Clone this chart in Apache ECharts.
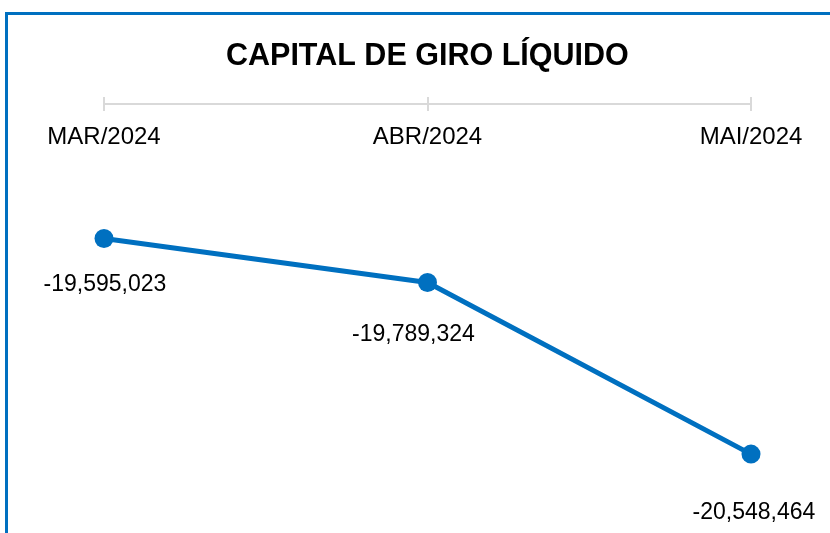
<!DOCTYPE html>
<html>
<head>
<meta charset="utf-8">
<script src="https://cdn.jsdelivr.net/npm/echarts@6/dist/echarts.min.js"></script>
<style>
html,body{margin:0;padding:0;background:#fff;}
#c{width:830px;height:533px;}
</style>
</head>
<body>
<div id="c"></div>
<script>
var categories = ['MAR/2024', 'ABR/2024', 'MAI/2024'];
var values = [-19595023, -19789324, -20548464];
var chartTitle = 'CAPITAL DE GIRO LÍQUIDO';

var labelOffsets = [[1, 46], [-14, 52], [3, 59]];

function fmt(v) {
  var s = Math.abs(v).toString().replace(/\B(?=(\d{3})+(?!\d))/g, ',');
  return (v < 0 ? '-' : '') + s;
}

var chart = echarts.init(document.getElementById('c'));
var blue = '#0070C0';
chart.setOption({
  backgroundColor: '#fff',
  animation: false,
  title: {
    text: chartTitle,
    left: 221,
    top: 36,
    textStyle: { fontFamily: 'Liberation Sans', fontWeight: 'bold', fontSize: 30.5, color: '#000' }
  },
  graphic: [{
    type: 'rect',
    shape: { x: 6.5, y: 13.5, width: 900, height: 700 },
    style: { fill: 'none', stroke: blue, lineWidth: 3 },
    silent: true
  }],
  grid: { left: 104, right: 79, top: 104, bottom: 22 },
  xAxis: [{
    type: 'category',
    data: categories,
    position: 'top',
    boundaryGap: false,
    axisLine: { lineStyle: { color: '#d9d9d9', width: 2 } },
    axisTick: { show: true, length: 7, lineStyle: { color: '#d9d9d9', width: 2 } },
    axisLabel: { inside: true, margin: 21, fontFamily: 'Liberation Sans', fontSize: 24, color: '#000' },
    splitLine: { show: false }
  }, {
    type: 'category',
    data: categories,
    position: 'top',
    boundaryGap: false,
    axisLine: { show: false },
    axisTick: { show: true, inside: true, length: 7, lineStyle: { color: '#d9d9d9', width: 2 } },
    axisLabel: { show: false },
    splitLine: { show: false }
  }],
  yAxis: {
    type: 'value',
    min: -20800000,
    max: -19000000,
    show: false,
    splitLine: { show: false }
  },
  series: [{
    type: 'line',
    xAxisIndex: 0,
    data: values.map(function (v, i) {
      return { value: v, label: { offset: labelOffsets[i] } };
    }),
    symbol: 'circle',
    symbolSize: 19,
    lineStyle: { color: blue, width: 5 },
    itemStyle: { color: blue },
    label: {
      show: true,
      position: 'inside',
      fontFamily: 'Liberation Sans',
      fontSize: 23,
      color: '#000',
      formatter: function (p) { return fmt(p.value); }
    }
  }]
});
</script>
</body>
</html>
